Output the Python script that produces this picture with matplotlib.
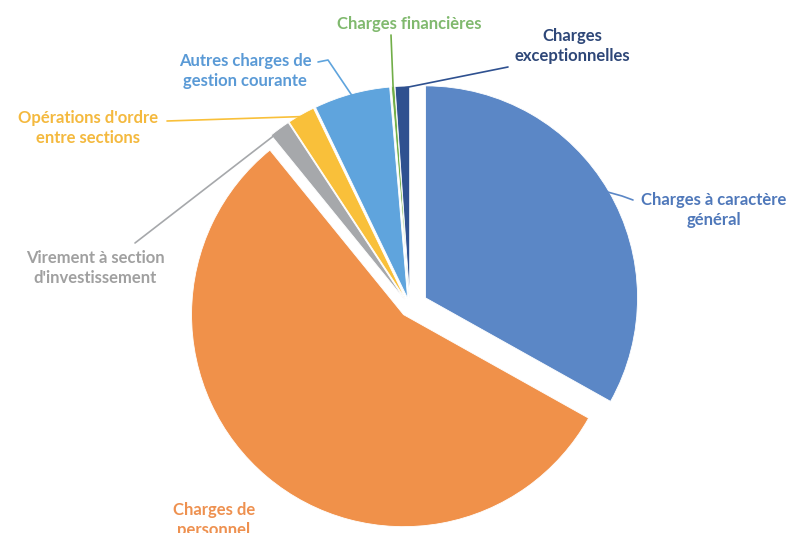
import numpy as np
import matplotlib
matplotlib.use("Agg")
import matplotlib.pyplot as plt

# parts of the budget, clockwise from the top
categories = [
    "Charges à caractère\ngénéral",
    "Charges de\npersonnel",
    "Virement à section\nd'investissement",
    "Opérations d'ordre\nentre sections",
    "Autres charges de\ngestion courante",
    "Charges financières",
    "Charges\nexceptionnelles",
]
shares = [33.1, 56.0, 1.6, 2.1, 5.8, 0.25, 1.1]

slice_colors = ["#5B87C6", "#F0914A", "#A6A8AB", "#F9C03A", "#5FA4DD", "#71AE48", "#2F5190"]
text_colors = ["#4F78BA", "#EE9150", "#A0A0A0", "#F4B93E", "#5A9AD6", "#80B96E", "#2E4778"]
explode = [18, 10, 9, 9, 9, 9, 9]  # offsets in pixels

W, H = 792, 533

# label layout in image pixels: text centre, leader path (start, elbow...) or None
label_pos = [(714, 210), (214, 520), (95, 268), (88, 128), (245, 71), (409, 24), (572, 46)]
leaders = [
    [(633, 200), (622, 196)],
    None,
    [(135, 243)],
    [(167, 121)],
    [(318, 62), (328, 60)],
    [(391, 35)],
    [(508, 67)],
]

fig = plt.figure(figsize=(W / 100, H / 100), dpi=100)
ax = fig.add_axes([0, 0, 1, 1])

wedges, _ = ax.pie(
    shares,
    colors=slice_colors,
    explode=explode,
    startangle=90,
    counterclock=False,
    radius=212,
    center=(410, 226),
    wedgeprops=dict(edgecolor="white", linewidth=0.6),
    frame=True,
)
ax.set_xlim(0, W)
ax.set_ylim(0, H)
ax.set_aspect("equal")
ax.axis("off")

for i, w in enumerate(wedges):
    tx, ty = label_pos[i]
    ax.text(tx, H - ty, categories[i], ha="center", va="center",
            fontsize=12, fontweight="bold", family=["Lato", "DejaVu Sans"],
            color=text_colors[i], linespacing=1.25)
    if leaders[i] is None:
        continue
    mid = np.deg2rad((w.theta1 + w.theta2) / 2)
    cx, cy = w.center
    ax_pt = (cx + w.r * 0.99 * np.cos(mid), cy + w.r * 0.99 * np.sin(mid))
    xs = [p[0] for p in leaders[i]] + [ax_pt[0]]
    ys = [H - p[1] for p in leaders[i]] + [ax_pt[1]]
    ax.plot(xs, ys, color=slice_colors[i], lw=1.2, solid_capstyle="round")

fig.savefig("out.png", dpi=100)
